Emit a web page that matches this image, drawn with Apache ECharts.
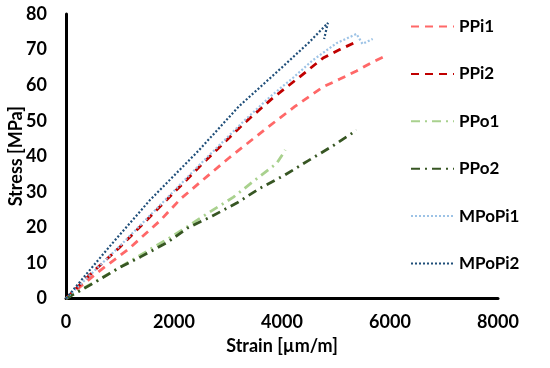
<!DOCTYPE html>
<html><head><meta charset="utf-8">
<script src="https://cdn.jsdelivr.net/npm/echarts@6/dist/echarts.min.js"></script>
<style>html,body{margin:0;padding:0;background:#fff}#c{width:550px;height:368px}</style>
</head><body><div id="c"></div>
<script>
var seriesNames = ['PPi1','PPi2','PPo1','PPo2','MPoPi1','MPoPi2'];
var xTicks = [0,2000,4000,6000,8000];
var yTicks = [0,10,20,30,40,50,60,70,80];

var ppi1Strain = [0,600,1150,1750,2120,3000,3740,4240,4760,5070,5380,5680,5920];
var ppi1Stress = [0,7.5,13.8,22,28,39.3,48.2,54,59.5,61.7,64,66.5,68.2];

var ppi2Strain = [0,500,1000,1700,2500,3300,3800,4300,4760,5070,5350];
var ppi2Stress = [0,7.5,14.5,25.2,37.5,49.3,56,62,67.6,70,72];

var ppo1Strain = [0,1000,2000,2650,3100,3500,3900,4040,4060];
var ppo1Stress = [0,8.8,17.8,24.2,28.5,33.3,38,41.2,41.8];

var ppo2Strain = [0,520,980,1380,1880,2250,2710,3170,3590,4050,4480,4940,5380];
var ppo2Stress = [0,4.4,8.6,11.7,15.8,19.8,23.2,26.9,31,34.7,38.7,42.9,47.3];

var mpopi1Strain = [0,1000,1700,2500,3300,3800,4200,4570,5010,5380,5490,5680];
var mpopi1Stress = [0,14.8,25.6,38,50,57,62,67,71.8,74.4,71.6,73];

var mpopi2Strain = [0,800,1550,2450,3200,4000,4500,4850,4880,4780];
var mpopi2Stress = [0,14.5,27.6,41.5,54,65,72,77.5,77.2,73];

function zip(a,b){return a.map(function(v,i){return [v,b[i]];});}

var colors = ['#ff6868','#c00000','#a9d18e','#375623','#9dc3e6','#1f4e79'];
var types = [[8,6],[8,6],[9,5,2,5],[9,5,2,5],[2,2],[2,2]];
var datas = [zip(ppi1Strain,ppi1Stress),zip(ppi2Strain,ppi2Stress),zip(ppo1Strain,ppo1Stress),
             zip(ppo2Strain,ppo2Stress),zip(mpopi1Strain,mpopi1Stress),zip(mpopi2Strain,mpopi2Stress)];

var font = 'Lato';
var chart = echarts.init(document.getElementById('c'));
chart.setOption({
  animation:false,
  backgroundColor:'#fff',
  grid:{left:66,right:52,top:14,bottom:69.5,containLabel:false,outerBoundsMode:'none'},
  legend:{
    orient:'vertical', left:405, top:13, itemWidth:43, itemHeight:14, itemGap:30.4,
    data:seriesNames,
    itemStyle:{opacity:0},
    textStyle:{fontFamily:font,fontWeight:'bold',fontSize:17,color:'#000'}
  },
  xAxis:{
    type:'value', min:0, max:8000, interval:2000,
    axisLine:{show:true,lineStyle:{color:'#000',width:3}},
    axisTick:{show:false}, splitLine:{show:false},
    axisLabel:{margin:15,fontFamily:font,fontWeight:'bold',fontSize:18,color:'#000',
      formatter:function(v){return xTicks.indexOf(v)>=0?String(v):'';}},
    name:'Strain [µm/m]', nameLocation:'middle', nameGap:39, nameMoveOverlap:false,
    nameTextStyle:{fontFamily:font,fontWeight:'bold',fontSize:18,color:'#000'}
  },
  yAxis:{
    type:'value', min:0, max:80, interval:10,
    axisLine:{show:true,lineStyle:{color:'#000',width:3}},
    axisTick:{show:false}, splitLine:{show:false},
    axisLabel:{margin:19,fontFamily:font,fontWeight:'bold',fontSize:18,color:'#000',
      formatter:function(v){return yTicks.indexOf(v)>=0?String(v):'';}},
    name:'Stress [MPa]', nameLocation:'middle', nameGap:41, nameMoveOverlap:false,
    nameTextStyle:{fontFamily:font,fontWeight:'bold',fontSize:18,color:'#000'}
  },
  series: seriesNames.map(function(n,i){
    return {name:n,type:'line',data:datas[i],symbol:'none',smooth:false,
      color:colors[i],
      lineStyle:{color:colors[i],width:(i>=4?2.2:2.8),type:types[i],cap:'butt'}};
  })
});
</script></body></html>
